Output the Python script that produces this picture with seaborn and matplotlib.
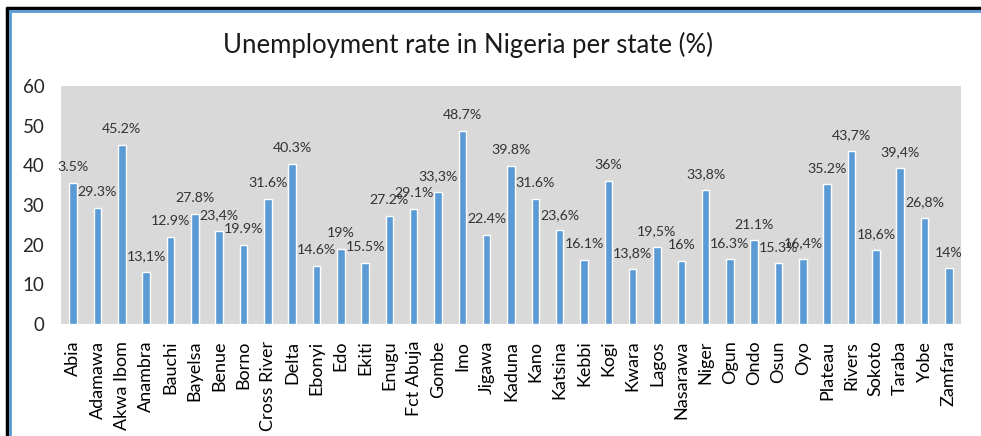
import matplotlib
matplotlib.use("Agg")
import matplotlib.pyplot as plt
import seaborn as sns
import pandas as pd
from matplotlib.lines import Line2D

states = ["Abia", "Adamawa", "Akwa Ibom", "Anambra", "Bauchi", "Bayelsa", "Benue", "Borno",
          "Cross River", "Delta", "Ebonyi", "Edo", "Ekiti", "Enugu", "Fct Abuja", "Gombe", "Imo",
          "Jigawa", "Kaduna", "Kano", "Katsina", "Kebbi", "Kogi", "Kwara", "Lagos", "Nasarawa",
          "Niger", "Ogun", "Ondo", "Osun", "Oyo", "Plateau", "Rivers", "Sokoto", "Taraba", "Yobe",
          "Zamfara"]
rates = [35.5, 29.3, 45.2, 13.1, 22.0, 27.8, 23.4, 19.9, 31.6, 40.3, 14.6, 19.0, 15.5, 27.2,
         29.1, 33.3, 48.7, 22.4, 39.8, 31.6, 23.6, 16.1, 36.0, 13.8, 19.5, 16.0, 33.8, 16.3, 21.1,
         15.3, 16.4, 35.2, 43.7, 18.6, 39.4, 26.8, 14.0]
value_labels = ["3.5%", "29.3%", "45.2%", "13,1%", "12.9%", "27.8%", "23,4%", "19.9%", "31.6%",
                "40.3%", "14.6%", "19%", "15.5%", "27.2%", "29.1%", "33,3%", "48.7%", "22.4%",
                "39.8%", "31.6%", "23,6%", "16.1%", "36%", "13,8%", "19,5%", "16%", "33,8%",
                "16.3%", "21.1%", "15.3%", "16,4%", "35.2%", "43,7%", "18,6%", "39,4%", "26,8%",
                "14%"]
y_ticks = [0, 10, 20, 30, 40, 50, 60]
title = "Unemployment rate in Nigeria per state (%)"

df = pd.DataFrame({"state": states, "rate": rates})

sns.set_theme(style="white")
plt.rcParams["font.family"] = ["Lato", "DejaVu Sans"]

fig = plt.figure(figsize=(9.81, 4.36), dpi=100)
W, H = 981, 436
ax = fig.add_axes([61 / W, 1 - 324 / H, 900 / W, 238 / H])
ax.set_facecolor("#d9d9d9")

sns.barplot(data=df, x="state", y="rate", color="#5b9bd5", saturation=1, width=0.31, ax=ax)
ax.bar_label(ax.containers[0], labels=value_labels, padding=7, fontsize=10.2, color="#333333")

ax.set_ylim(0, 60)
ax.set_xlim(-0.5, len(states) - 0.5)
ax.set_yticks(y_ticks)
ax.set_yticklabels([str(t) for t in y_ticks], fontsize=13.5, color="#262626")
ax.tick_params(axis="y", length=0, pad=12)
ax.tick_params(axis="x", length=0, pad=12)
ax.set_xticks(range(len(states)))
ax.set_xticklabels(states, rotation=90, fontsize=13, color="#000000", va="top", ha="center")
ax.set_xlabel("")
ax.set_ylabel("")
for s in ax.spines.values():
    s.set_visible(False)

fig.text(468 / W, 1 - 45 / H, title, ha="center", va="center", fontsize=18.5, color="#1a1a1a")

# frame decorations
fig.add_artist(Line2D([7 / W, 1], [1 - 8 / H, 1 - 8 / H], color="black", lw=2.5,
                      transform=fig.transFigure))
fig.add_artist(Line2D([7 / W, 7 / W], [0, 1 - 8 / H], color="black", lw=2.5,
                      transform=fig.transFigure))
fig.add_artist(Line2D([10 / W, 1], [1 - 11 / H, 1 - 11 / H], color="#5b9bd5", lw=2,
                      transform=fig.transFigure))
fig.add_artist(Line2D([10 / W, 10 / W], [0, 1 - 11 / H], color="#5b9bd5", lw=2,
                      transform=fig.transFigure))

fig.savefig("out.png", dpi=100, facecolor="white")
